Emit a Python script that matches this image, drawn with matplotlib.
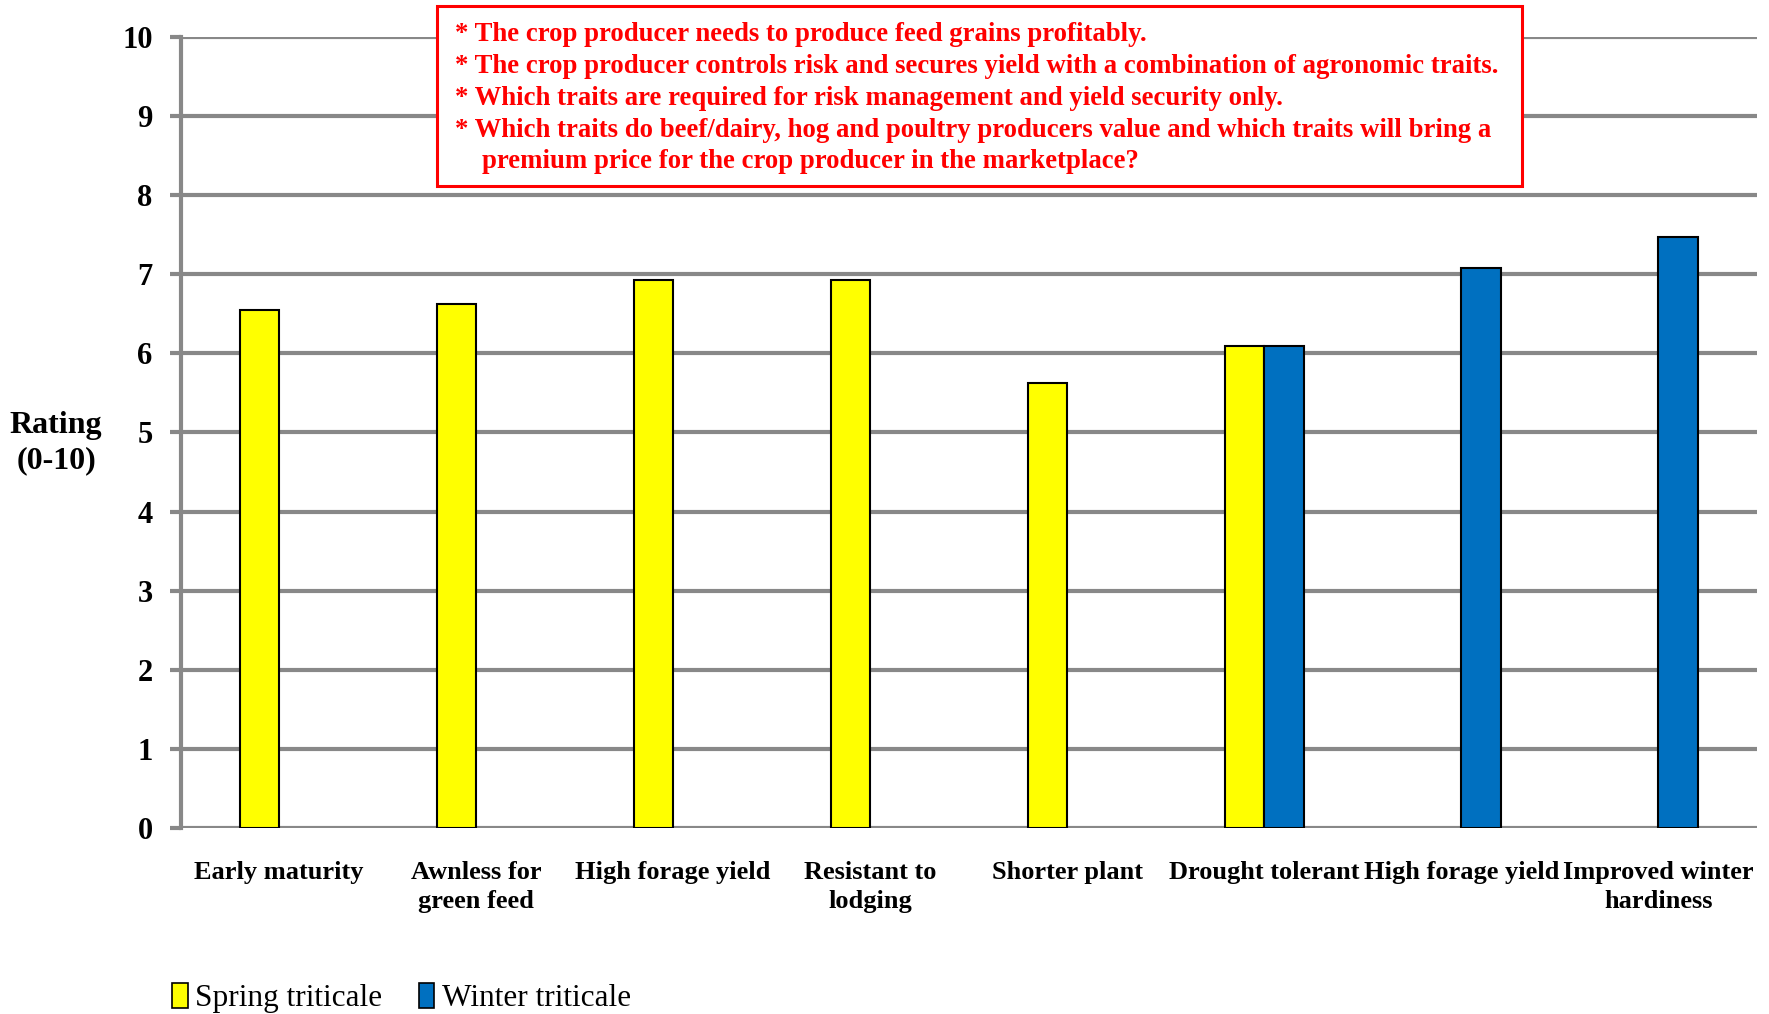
import numpy as np
import matplotlib
matplotlib.use("Agg")
import matplotlib.pyplot as plt
from matplotlib.patches import Patch

categories = ["Early maturity", "Awnless for\ngreen feed", "High forage yield",
              "Resistant to\nlodging", "Shorter plant", "Drought tolerant",
              "High forage yield", "Improved winter\nhardiness"]
spring = [6.55, 6.63, 6.93, 6.93, 5.62, 6.09, np.nan, np.nan]
winter = [np.nan, np.nan, np.nan, np.nan, np.nan, 6.09, 7.08, 7.47]
series_names = ["Spring triticale", "Winter triticale"]
yticks = list(range(0, 11))
note_lines = [
    "* The crop producer needs to produce feed grains profitably.",
    "* The crop producer controls risk and secures yield with a combination of agronomic traits.",
    "* Which traits are required for risk management and yield security only.",
    "* Which traits do beef/dairy, hog and poultry producers value and which traits will bring a",
    "    premium price for the crop producer in the marketplace?",
]

plt.rcParams['font.family'] = ['Liberation Serif', 'DejaVu Serif']

W, H = 1769, 1014
fig = plt.figure(figsize=(W / 100, H / 100), dpi=100)
ax = fig.add_axes([180.5 / W, 1 - 828 / H, (1757 - 180.5) / W, (828 - 37) / H])

x = np.arange(len(categories))
bw = 0.2
colors = ["#FFFF00", "#0070C0"]
for k, (vals, off) in enumerate([(spring, -bw / 2), (winter, bw / 2)]):
    v = np.array(vals, dtype=float)
    m = ~np.isnan(v)
    ax.bar(x[m] + off, v[m], width=bw, color=colors[k], edgecolor="black",
           linewidth=1.5, zorder=3)

ax.set_xlim(-0.5, len(categories) - 0.5)
ax.set_ylim(0, 10)
ax.set_yticks(yticks)
ax.set_yticklabels([str(t) for t in yticks], fontsize=22, fontweight="bold")
ax.yaxis.grid(True, color="#888888", linewidth=3, zorder=0)
ax.set_axisbelow(True)
for s in ["top", "right", "bottom"]:
    ax.spines[s].set_visible(False)
ax.spines["left"].set_color("#888888")
ax.spines["left"].set_linewidth(3)
ax.tick_params(axis="y", length=8, width=3, color="#888888", pad=12)
ax.set_xticks(x)
ax.set_xticklabels(categories, fontsize=19, fontweight="bold", linespacing=1.3)
ax.tick_params(axis="x", length=0, pad=24)

fig.text(56 / W, 1 - 443 / H, "Rating\n(0-10)", ha="center", va="center",
         fontsize=23, fontweight="bold", linespacing=1.25)

# Note box
fig.patches.append(matplotlib.patches.Rectangle(
    (437 / W, 1 - 186 / H), (1522 - 437) / W, (186 - 6) / H,
    transform=fig.transFigure, facecolor="white", edgecolor="#FF0000",
    linewidth=2.2, zorder=5))
fig.text(455 / W, 1 - 22 / H, "\n".join(note_lines), ha="left", va="top",
         fontsize=19.3, fontweight="bold", color="#FF0000", linespacing=1.36,
         zorder=6)

handles = [Patch(facecolor=colors[0], edgecolor="black", linewidth=1.2),
           Patch(facecolor=colors[1], edgecolor="black", linewidth=1.2)]
fig.legend(handles, series_names, loc="center left",
           bbox_to_anchor=(172 / W, 1 - 998 / H), ncol=2, frameon=False,
           fontsize=22.5, handlelength=0.5, handleheight=0.85, handletextpad=0.25,
           columnspacing=1.15, borderaxespad=0, borderpad=0)

fig.savefig("out.png", dpi=100)
